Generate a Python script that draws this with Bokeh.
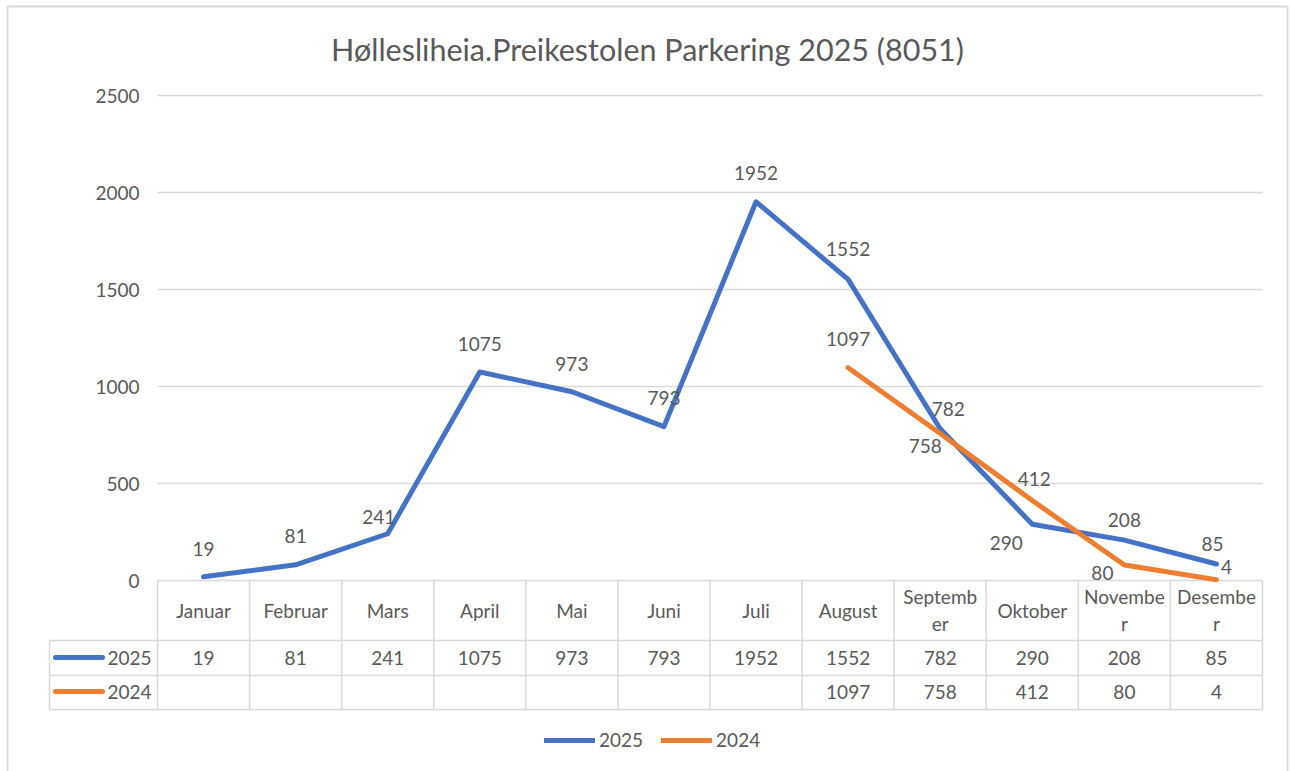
import numpy as np
from bokeh.plotting import figure
from bokeh.models import Range1d, Legend, LegendItem
from bokeh.core.properties import value
from bokeh.embed import file_html
from bokeh.resources import INLINE

# ---------------- data ----------------
chart_title = "Høllesliheia.Preikestolen Parkering 2025 (8051)"
months = ["Januar", "Februar", "Mars", "April", "Mai", "Juni", "Juli",
          "August", "September", "Oktober", "November", "Desember"]
series_2025 = [19, 81, 241, 1075, 973, 793, 1952, 1552, 782, 290, 208, 85]
series_2024 = [None, None, None, None, None, None, None, 1097, 758, 412, 80, 4]
y_ticks = [0, 500, 1000, 1500, 2000, 2500]
series_names = ["2025", "2024"]

# ---------------- styling / layout ----------------
BLUE = "#4472C4"
ORANGE = "#ED7D31"
GRID = "#D9D9D9"
TXT = "#595959"
FONT = value("Lato")
FS = "19px"

W, H = 1290, 771
PLOT_L, PLOT_R = 157, 1262      # plot area horizontal extent (px)
Y0_PX, YTOP_PX = 580, 95        # pixel rows of value 0 and of top tick
YMAX = y_ticks[-1]
n = len(months)
cw = (PLOT_R - PLOT_L) / n
ky = YMAX / (Y0_PX - YTOP_PX)


def X(px):
    return (px - PLOT_L) / cw


def Y(py):
    return (Y0_PX - py) * ky


p = figure(width=W, height=H, x_range=Range1d(X(0), X(W)), y_range=Range1d(Y(H), Y(0)),
           x_axis_type=None, y_axis_type=None, output_backend="svg",
           toolbar_location=None, min_border=0, outline_line_color=None,
           background_fill_color="white", border_fill_color="white")

# chart border (left, top, right)
p.segment(x0=[X(7), X(7), X(1287)], y0=[Y(771), Y(6), Y(771)],
          x1=[X(7), X(1287), X(1287)], y1=[Y(6), Y(6), Y(6)],
          line_color=GRID, line_width=2)

# title
p.text(x=[X(647)], y=[Y(48)], text=[chart_title], text_font=FONT, text_font_size="30.5px",
       text_color=TXT, text_align="center", text_baseline="middle")

# horizontal grid lines
gy = y_ticks[1:]
p.segment(x0=[0] * len(gy), x1=[n] * len(gy), y0=gy, y1=gy, line_color=GRID, line_width=1.5)

# y tick labels
p.text(x=[X(139)] * len(y_ticks), y=y_ticks, text=[str(t) for t in y_ticks], text_font=FONT,
       text_font_size=FS, text_color=TXT, text_align="right", text_baseline="middle")

# ---------------- data table ----------------
row_top, row_a, row_b, row_bot = 580, 640, 675, 709
left_col = 49
# vertical lines of month columns
xs = list(range(n + 1))
p.segment(x0=xs, x1=xs, y0=[Y(row_top)] * len(xs), y1=[Y(row_bot)] * len(xs),
          line_color=GRID, line_width=1.5)
# left column border
p.segment(x0=[X(left_col)], x1=[X(left_col)], y0=[Y(row_a)], y1=[Y(row_bot)],
          line_color=GRID, line_width=1.5)
# horizontal table lines
p.segment(x0=[0, X(left_col), X(left_col), X(left_col)], x1=[n, n, n, n],
          y0=[Y(row_top), Y(row_a), Y(row_b), Y(row_bot)],
          y1=[Y(row_top), Y(row_a), Y(row_b), Y(row_bot)],
          line_color=GRID, line_width=1.5)

# header labels (wrapped like the original at 7 characters)
cx = np.arange(n) + 0.5
one_x, one_t, l1_x, l1_t, l2_x, l2_t = [], [], [], [], [], []
for i, m in enumerate(months):
    if len(m) > 7:
        l1_x.append(cx[i]); l1_t.append(m[:7])
        l2_x.append(cx[i]); l2_t.append(m[7:])
    else:
        one_x.append(cx[i]); one_t.append(m)
hdr = dict(text_font=FONT, text_font_size=FS, text_color=TXT, text_align="center",
           text_baseline="middle")
p.text(x=one_x, y=[Y(610)] * len(one_x), text=one_t, **hdr)
p.text(x=l1_x, y=[Y(596)] * len(l1_x), text=l1_t, **hdr)
p.text(x=l2_x, y=[Y(623)] * len(l2_x), text=l2_t, **hdr)

# value rows
p.text(x=list(cx), y=[Y(657)] * n, text=[str(v) for v in series_2025], **hdr)
p.text(x=list(cx), y=[Y(691)] * n, text=["" if v is None else str(v) for v in series_2024], **hdr)

# row legend keys
for ypx, col, name in [(657, BLUE, series_names[0]), (691, ORANGE, series_names[1])]:
    p.line(x=[X(55), X(102)], y=[Y(ypx), Y(ypx)], line_color=col, line_width=5, line_cap="round")
    p.text(x=[X(107)], y=[Y(ypx)], text=[name], text_font=FONT, text_font_size=FS,
           text_color=TXT, text_align="left", text_baseline="middle")

# ---------------- lines ----------------
y25 = np.array(series_2025, dtype=float)
y24 = np.array([np.nan if v is None else v for v in series_2024], dtype=float)
r25 = p.line(x=cx, y=y25, line_color=BLUE, line_width=5, line_join="round", line_cap="round")
r24 = p.line(x=cx, y=y24, line_color=ORANGE, line_width=5, line_join="round", line_cap="round")

# data labels (pixel offsets from the point)
dx25 = [0, 0, -9, 0, 0, 0, 0, 0, 8, -26, 0, -4]
dy25 = [-28, -29, -17, -28, -28, -29, -29, -30, -20, 19, -20, -20]
p.text(x=cx, y=y25, text=[str(v) for v in series_2025], x_offset=dx25, y_offset=dy25,
       text_font=FONT, text_font_size=FS, text_color=TXT, text_align="center",
       text_baseline="middle")

idx24 = [i for i, v in enumerate(series_2024) if v is not None]
dx24 = [0, -15, 2, -22, 10]
dy24 = [-29, 13, -22, 8, -13]
p.text(x=[cx[i] for i in idx24], y=[series_2024[i] for i in idx24],
       text=[str(series_2024[i]) for i in idx24], x_offset=dx24, y_offset=dy24,
       text_font=FONT, text_font_size=FS, text_color=TXT, text_align="center",
       text_baseline="middle")

# ---------------- bottom legend ----------------
legend = Legend(items=[LegendItem(label=series_names[0], renderers=[r25]),
                       LegendItem(label=series_names[1], renderers=[r24])],
                orientation="horizontal", location=(544, 20),
                glyph_width=51, glyph_height=20, label_height=20, label_standoff=4,
                spacing=18, padding=0, margin=0, border_line_color=None,
                background_fill_alpha=0, label_text_font="Lato", label_text_font_size=FS,
                label_text_color=TXT)
p.add_layout(legend)

open("out.html", "w").write(file_html(p, INLINE))
